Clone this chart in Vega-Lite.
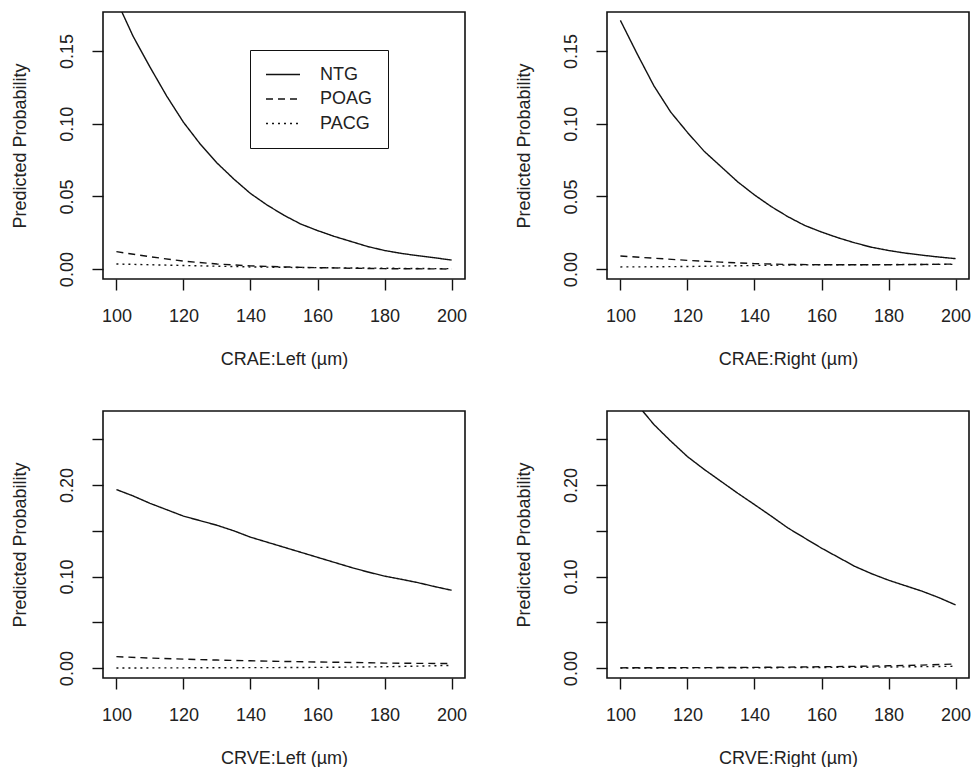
{
  "$schema": "https://vega.github.io/schema/vega-lite/v6.json",
  "background": "white",
  "autosize": {"type": "pad"},
  "padding": {"left": 10, "top": 11, "right": 4, "bottom": 4},
  "config": {
    "font": "Liberation Sans",
    "view": {"stroke": "#111", "strokeWidth": 1.6},
    "axis": {
      "domain": false, "grid": false,
      "tickColor": "#111", "tickWidth": 1.4, "tickSize": 11,
      "labelFontSize": 18, "labelColor": "#222", "labelFont": "Liberation Sans",
      "titleFontSize": 18, "titleFontWeight": "normal", "titleColor": "#222", "titleFont": "Liberation Sans"
    },
    "axisX": {"labelPadding": 17, "titlePadding": 25},
    "axisY": {"labelPadding": 16, "titlePadding": 29, "labelAngle": 270, "labelAlign": "center", "labelBaseline": "bottom"}
  },
  "datasets": {
    "curves": [
      {"panel":"A","type":"NTG","x":100,"p":0.185},{"panel":"A","type":"NTG","x":105,"p":0.160},{"panel":"A","type":"NTG","x":110,"p":0.139},{"panel":"A","type":"NTG","x":115,"p":0.119},{"panel":"A","type":"NTG","x":120,"p":0.101},{"panel":"A","type":"NTG","x":125,"p":0.086},{"panel":"A","type":"NTG","x":130,"p":0.073},{"panel":"A","type":"NTG","x":135,"p":0.062},{"panel":"A","type":"NTG","x":140,"p":0.052},{"panel":"A","type":"NTG","x":145,"p":0.044},{"panel":"A","type":"NTG","x":150,"p":0.037},{"panel":"A","type":"NTG","x":155,"p":0.031},{"panel":"A","type":"NTG","x":160,"p":0.0265},{"panel":"A","type":"NTG","x":165,"p":0.0225},{"panel":"A","type":"NTG","x":170,"p":0.019},{"panel":"A","type":"NTG","x":175,"p":0.0155},{"panel":"A","type":"NTG","x":180,"p":0.0128},{"panel":"A","type":"NTG","x":185,"p":0.0108},{"panel":"A","type":"NTG","x":190,"p":0.0092},{"panel":"A","type":"NTG","x":195,"p":0.0078},{"panel":"A","type":"NTG","x":200,"p":0.0062},
      {"panel":"A","type":"POAG","x":100,"p":0.012},{"panel":"A","type":"POAG","x":110,"p":0.0085},{"panel":"A","type":"POAG","x":120,"p":0.0055},{"panel":"A","type":"POAG","x":130,"p":0.0035},{"panel":"A","type":"POAG","x":140,"p":0.0022},{"panel":"A","type":"POAG","x":150,"p":0.0015},{"panel":"A","type":"POAG","x":160,"p":0.001},{"panel":"A","type":"POAG","x":170,"p":0.0006},{"panel":"A","type":"POAG","x":180,"p":0.0003},{"panel":"A","type":"POAG","x":190,"p":0.0002},{"panel":"A","type":"POAG","x":200,"p":0.0001},
      {"panel":"A","type":"PACG","x":100,"p":0.0035},{"panel":"A","type":"PACG","x":110,"p":0.003},{"panel":"A","type":"PACG","x":120,"p":0.0025},{"panel":"A","type":"PACG","x":130,"p":0.002},{"panel":"A","type":"PACG","x":140,"p":0.0015},{"panel":"A","type":"PACG","x":150,"p":0.0012},{"panel":"A","type":"PACG","x":160,"p":0.001},{"panel":"A","type":"PACG","x":170,"p":0.0008},{"panel":"A","type":"PACG","x":180,"p":0.0006},{"panel":"A","type":"PACG","x":190,"p":0.0004},{"panel":"A","type":"PACG","x":200,"p":0.0003},

      {"panel":"B","type":"NTG","x":100,"p":0.171},{"panel":"B","type":"NTG","x":105,"p":0.148},{"panel":"B","type":"NTG","x":110,"p":0.126},{"panel":"B","type":"NTG","x":115,"p":0.108},{"panel":"B","type":"NTG","x":120,"p":0.094},{"panel":"B","type":"NTG","x":125,"p":0.081},{"panel":"B","type":"NTG","x":130,"p":0.0705},{"panel":"B","type":"NTG","x":135,"p":0.060},{"panel":"B","type":"NTG","x":140,"p":0.051},{"panel":"B","type":"NTG","x":145,"p":0.043},{"panel":"B","type":"NTG","x":150,"p":0.036},{"panel":"B","type":"NTG","x":155,"p":0.030},{"panel":"B","type":"NTG","x":160,"p":0.0255},{"panel":"B","type":"NTG","x":165,"p":0.0215},{"panel":"B","type":"NTG","x":170,"p":0.018},{"panel":"B","type":"NTG","x":175,"p":0.015},{"panel":"B","type":"NTG","x":180,"p":0.0128},{"panel":"B","type":"NTG","x":185,"p":0.011},{"panel":"B","type":"NTG","x":190,"p":0.0096},{"panel":"B","type":"NTG","x":195,"p":0.0083},{"panel":"B","type":"NTG","x":200,"p":0.0072},
      {"panel":"B","type":"POAG","x":100,"p":0.009},{"panel":"B","type":"POAG","x":110,"p":0.0075},{"panel":"B","type":"POAG","x":120,"p":0.006},{"panel":"B","type":"POAG","x":130,"p":0.0048},{"panel":"B","type":"POAG","x":140,"p":0.0038},{"panel":"B","type":"POAG","x":150,"p":0.0032},{"panel":"B","type":"POAG","x":160,"p":0.003},{"panel":"B","type":"POAG","x":170,"p":0.003},{"panel":"B","type":"POAG","x":180,"p":0.003},{"panel":"B","type":"POAG","x":190,"p":0.0032},{"panel":"B","type":"POAG","x":200,"p":0.0035},
      {"panel":"B","type":"PACG","x":100,"p":0.0015},{"panel":"B","type":"PACG","x":110,"p":0.0016},{"panel":"B","type":"PACG","x":120,"p":0.0018},{"panel":"B","type":"PACG","x":130,"p":0.0021},{"panel":"B","type":"PACG","x":140,"p":0.0025},{"panel":"B","type":"PACG","x":150,"p":0.0028},{"panel":"B","type":"PACG","x":160,"p":0.003},{"panel":"B","type":"PACG","x":170,"p":0.003},{"panel":"B","type":"PACG","x":180,"p":0.0031},{"panel":"B","type":"PACG","x":190,"p":0.0032},{"panel":"B","type":"PACG","x":200,"p":0.0033},

      {"panel":"C","type":"NTG","x":100,"p":0.195},{"panel":"C","type":"NTG","x":105,"p":0.188},{"panel":"C","type":"NTG","x":110,"p":0.180},{"panel":"C","type":"NTG","x":115,"p":0.173},{"panel":"C","type":"NTG","x":120,"p":0.166},{"panel":"C","type":"NTG","x":125,"p":0.161},{"panel":"C","type":"NTG","x":130,"p":0.156},{"panel":"C","type":"NTG","x":135,"p":0.150},{"panel":"C","type":"NTG","x":140,"p":0.143},{"panel":"C","type":"NTG","x":145,"p":0.1375},{"panel":"C","type":"NTG","x":150,"p":0.132},{"panel":"C","type":"NTG","x":155,"p":0.1265},{"panel":"C","type":"NTG","x":160,"p":0.121},{"panel":"C","type":"NTG","x":165,"p":0.1155},{"panel":"C","type":"NTG","x":170,"p":0.110},{"panel":"C","type":"NTG","x":175,"p":0.105},{"panel":"C","type":"NTG","x":180,"p":0.1005},{"panel":"C","type":"NTG","x":185,"p":0.097},{"panel":"C","type":"NTG","x":190,"p":0.0933},{"panel":"C","type":"NTG","x":195,"p":0.089},{"panel":"C","type":"NTG","x":200,"p":0.085},
      {"panel":"C","type":"POAG","x":100,"p":0.0125},{"panel":"C","type":"POAG","x":110,"p":0.011},{"panel":"C","type":"POAG","x":120,"p":0.0098},{"panel":"C","type":"POAG","x":130,"p":0.0088},{"panel":"C","type":"POAG","x":140,"p":0.008},{"panel":"C","type":"POAG","x":150,"p":0.0073},{"panel":"C","type":"POAG","x":160,"p":0.0067},{"panel":"C","type":"POAG","x":170,"p":0.0062},{"panel":"C","type":"POAG","x":180,"p":0.0055},{"panel":"C","type":"POAG","x":190,"p":0.0052},{"panel":"C","type":"POAG","x":200,"p":0.005},
      {"panel":"C","type":"PACG","x":100,"p":0.0002},{"panel":"C","type":"PACG","x":110,"p":0.0002},{"panel":"C","type":"PACG","x":120,"p":0.0003},{"panel":"C","type":"PACG","x":130,"p":0.0004},{"panel":"C","type":"PACG","x":140,"p":0.0005},{"panel":"C","type":"PACG","x":150,"p":0.0006},{"panel":"C","type":"PACG","x":160,"p":0.0008},{"panel":"C","type":"PACG","x":170,"p":0.0011},{"panel":"C","type":"PACG","x":180,"p":0.0015},{"panel":"C","type":"PACG","x":190,"p":0.0022},{"panel":"C","type":"PACG","x":200,"p":0.003},

      {"panel":"D","type":"NTG","x":100,"p":0.31},{"panel":"D","type":"NTG","x":105,"p":0.288},{"panel":"D","type":"NTG","x":110,"p":0.266},{"panel":"D","type":"NTG","x":115,"p":0.248},{"panel":"D","type":"NTG","x":120,"p":0.231},{"panel":"D","type":"NTG","x":125,"p":0.217},{"panel":"D","type":"NTG","x":130,"p":0.204},{"panel":"D","type":"NTG","x":135,"p":0.191},{"panel":"D","type":"NTG","x":140,"p":0.1786},{"panel":"D","type":"NTG","x":145,"p":0.166},{"panel":"D","type":"NTG","x":150,"p":0.153},{"panel":"D","type":"NTG","x":155,"p":0.142},{"panel":"D","type":"NTG","x":160,"p":0.131},{"panel":"D","type":"NTG","x":165,"p":0.121},{"panel":"D","type":"NTG","x":170,"p":0.111},{"panel":"D","type":"NTG","x":175,"p":0.103},{"panel":"D","type":"NTG","x":180,"p":0.096},{"panel":"D","type":"NTG","x":185,"p":0.090},{"panel":"D","type":"NTG","x":190,"p":0.084},{"panel":"D","type":"NTG","x":195,"p":0.077},{"panel":"D","type":"NTG","x":200,"p":0.069},
      {"panel":"D","type":"POAG","x":100,"p":0.0003},{"panel":"D","type":"POAG","x":110,"p":0.0004},{"panel":"D","type":"POAG","x":120,"p":0.0005},{"panel":"D","type":"POAG","x":130,"p":0.0006},{"panel":"D","type":"POAG","x":140,"p":0.0008},{"panel":"D","type":"POAG","x":150,"p":0.0011},{"panel":"D","type":"POAG","x":160,"p":0.0015},{"panel":"D","type":"POAG","x":170,"p":0.0019},{"panel":"D","type":"POAG","x":180,"p":0.0025},{"panel":"D","type":"POAG","x":190,"p":0.0033},{"panel":"D","type":"POAG","x":200,"p":0.0045},
      {"panel":"D","type":"PACG","x":100,"p":0.0001},{"panel":"D","type":"PACG","x":110,"p":0.0001},{"panel":"D","type":"PACG","x":120,"p":0.0002},{"panel":"D","type":"PACG","x":130,"p":0.0003},{"panel":"D","type":"PACG","x":140,"p":0.0004},{"panel":"D","type":"PACG","x":150,"p":0.0005},{"panel":"D","type":"PACG","x":160,"p":0.0007},{"panel":"D","type":"PACG","x":170,"p":0.0009},{"panel":"D","type":"PACG","x":180,"p":0.0012},{"panel":"D","type":"PACG","x":190,"p":0.0016},{"panel":"D","type":"PACG","x":200,"p":0.002}
    ]
  },
  "columns": 2,
  "spacing": {"row": 132, "column": 142},
  "bounds": "flush",
  "resolve": {
    "scale": {"x": "independent", "y": "independent", "strokeDash": "independent"},
    "legend": {"strokeDash": "independent"}
  },
  "concat": [
    {
      "width": 362, "height": 267,
      "data": {"name": "curves"},
      "transform": [{"filter": "datum.panel == 'A'"}],
      "mark": {"type": "line", "clip": true, "strokeWidth": 1.4, "color": "#111"},
      "encoding": {
        "x": {"field": "x", "type": "quantitative", "scale": {"domain": [96, 204], "nice": false, "zero": false},
              "axis": {"values": [100, 120, 140, 160, 180, 200], "title": "CRAE:Left (µm)"}},
        "y": {"field": "p", "type": "quantitative", "scale": {"domain": [-0.0068, 0.1768], "nice": false, "zero": false},
              "axis": {"values": [0, 0.05, 0.1, 0.15], "format": ".2f", "title": "Predicted Probability"}},
        "strokeDash": {"field": "type", "type": "nominal",
              "scale": {"domain": ["NTG", "POAG", "PACG"], "range": [[1, 0], [7, 5], [2, 4]]},
              "legend": {"orient": "none", "legendX": 147, "legendY": 38, "title": null,
                         "strokeColor": "#111", "padding": 15,
                         "symbolType": "M-1,0H3", "symbolSize": 289, "symbolStrokeWidth": 1.4, "symbolStrokeColor": "#111",
                         "labelFontSize": 18, "labelColor": "#222", "labelOffset": 36, "rowPadding": 5.5}}
      }
    },
    {
      "width": 362, "height": 267,
      "data": {"name": "curves"},
      "transform": [{"filter": "datum.panel == 'B'"}],
      "mark": {"type": "line", "clip": true, "strokeWidth": 1.4, "color": "#111"},
      "encoding": {
        "x": {"field": "x", "type": "quantitative", "scale": {"domain": [96, 204], "nice": false, "zero": false},
              "axis": {"values": [100, 120, 140, 160, 180, 200], "title": "CRAE:Right (µm)"}},
        "y": {"field": "p", "type": "quantitative", "scale": {"domain": [-0.0068, 0.1768], "nice": false, "zero": false},
              "axis": {"values": [0, 0.05, 0.1, 0.15], "format": ".2f", "title": "Predicted Probability"}},
        "strokeDash": {"field": "type", "type": "nominal",
              "scale": {"domain": ["NTG", "POAG", "PACG"], "range": [[1, 0], [7, 5], [2, 4]]}, "legend": null}
      }
    },
    {
      "width": 362, "height": 267,
      "data": {"name": "curves"},
      "transform": [{"filter": "datum.panel == 'C'"}],
      "mark": {"type": "line", "clip": true, "strokeWidth": 1.4, "color": "#111"},
      "encoding": {
        "x": {"field": "x", "type": "quantitative", "scale": {"domain": [96, 204], "nice": false, "zero": false},
              "axis": {"values": [100, 120, 140, 160, 180, 200], "title": "CRVE:Left (µm)"}},
        "y": {"field": "p", "type": "quantitative", "scale": {"domain": [-0.0108, 0.2808], "nice": false, "zero": false},
              "axis": {"values": [0, 0.05, 0.1, 0.15, 0.2, 0.25], "labelExpr": "round(datum.value * 100) % 10 == 0 ? format(datum.value, '.2f') : ''", "title": "Predicted Probability"}},
        "strokeDash": {"field": "type", "type": "nominal",
              "scale": {"domain": ["NTG", "POAG", "PACG"], "range": [[1, 0], [7, 5], [2, 4]]}, "legend": null}
      }
    },
    {
      "width": 362, "height": 267,
      "data": {"name": "curves"},
      "transform": [{"filter": "datum.panel == 'D'"}],
      "mark": {"type": "line", "clip": true, "strokeWidth": 1.4, "color": "#111"},
      "encoding": {
        "x": {"field": "x", "type": "quantitative", "scale": {"domain": [96, 204], "nice": false, "zero": false},
              "axis": {"values": [100, 120, 140, 160, 180, 200], "title": "CRVE:Right (µm)"}},
        "y": {"field": "p", "type": "quantitative", "scale": {"domain": [-0.0108, 0.2808], "nice": false, "zero": false},
              "axis": {"values": [0, 0.05, 0.1, 0.15, 0.2, 0.25], "labelExpr": "round(datum.value * 100) % 10 == 0 ? format(datum.value, '.2f') : ''", "title": "Predicted Probability"}},
        "strokeDash": {"field": "type", "type": "nominal",
              "scale": {"domain": ["NTG", "POAG", "PACG"], "range": [[1, 0], [7, 5], [2, 4]]}, "legend": null}
      }
    }
  ]
}
